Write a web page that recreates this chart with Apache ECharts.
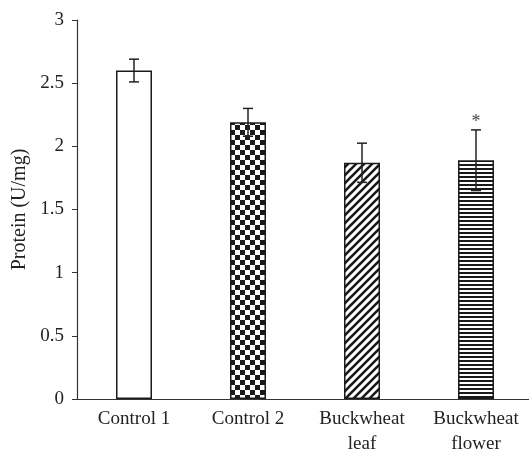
<!DOCTYPE html>
<html>
<head>
<meta charset="utf-8">
<script src="https://cdn.jsdelivr.net/npm/echarts@6/dist/echarts.min.js"></script>
<style>
  html, body { margin: 0; padding: 0; background: #fff; }
  #myChart { width: 529px; height: 455px; }
</style>
</head>
<body>
<div id="myChart"></div>
<script>
// data
var categories = ["Control 1", "Control 2", "Buckwheat\nleaf", "Buckwheat\nflower"];
var protein = [2.6, 2.19, 1.87, 1.89];
var errors = [0.09, 0.11, 0.155, 0.24];
var marks = ["", "", "", "*"];
var yTicks = [0, 0.5, 1, 1.5, 2, 2.5, 3];

// fill patterns
function tile(w, h, draw) {
  var c = document.createElement("canvas");
  c.width = w;
  c.height = h;
  var ctx = c.getContext("2d");
  ctx.fillStyle = "#fff";
  ctx.fillRect(0, 0, w, h);
  ctx.fillStyle = "#1a1a1a";
  ctx.strokeStyle = "#1a1a1a";
  draw(ctx);
  return { image: c, repeat: "repeat" };
}
var checker = tile(10, 10, function (ctx) {
  ctx.fillRect(0, 0, 5, 5);
  ctx.fillRect(5, 5, 5, 5);
});
var diagonal = tile(8, 8, function (ctx) {
  ctx.lineWidth = 2.6;
  ctx.beginPath();
  ctx.moveTo(-2, 10); ctx.lineTo(10, -2);
  ctx.moveTo(-2, 2); ctx.lineTo(2, -2);
  ctx.moveTo(6, 10); ctx.lineTo(10, 6);
  ctx.stroke();
});
var horizontal = tile(4, 4, function (ctx) {
  ctx.fillRect(0, 0, 4, 2);
});
var fills = ["#fff", checker, diagonal, horizontal];

var myChart = echarts.init(document.getElementById("myChart"));
var font = "'Liberation Serif', 'DejaVu Serif', serif";

myChart.setOption({
  animation: false,
  textStyle: { fontFamily: font },
  grid: { left: 77, top: 20, right: -4, bottom: 56, outerBoundsMode: "none", containLabel: false },
  xAxis: {
    type: "category",
    data: categories,
    axisLine: { lineStyle: { color: "#333", width: 1.2 } },
    axisTick: { alignWithLabel: true, length: 5, lineStyle: { color: "#333" } },
    axisLabel: { color: "#222", fontSize: 19, fontFamily: font, margin: 8, lineHeight: 25 }
  },
  yAxis: {
    type: "value",
    min: yTicks[0],
    max: yTicks[yTicks.length - 1],
    interval: 0.5,
    name: "Protein (U/mg)",
    nameLocation: "middle",
    nameGap: 38,
    nameTextStyle: { color: "#222", fontSize: 20, fontFamily: font },
    splitLine: { show: false },
    axisLine: { show: true, lineStyle: { color: "#333", width: 1.2 } },
    axisTick: { show: true, length: 5, lineStyle: { color: "#333" } },
    axisLabel: { color: "#222", fontSize: 19, fontFamily: font, margin: 13 }
  },
  series: [
    {
      type: "bar",
      barWidth: 36,
      data: protein.map(function (v, i) {
        return { value: v, itemStyle: { color: fills[i] } };
      }),
      itemStyle: { borderColor: "#1a1a1a", borderWidth: 1.5 }
    },
    {
      type: "custom",
      z: 5,
      data: protein.map(function (v, i) { return [i, v, errors[i]]; }),
      renderItem: function (params, api) {
        var i = api.value(0);
        var v = api.value(1);
        var e = api.value(2);
        var hi = api.coord([i, v + e]);
        var lo = api.coord([i, v - e]);
        var cap = 5;
        var style = { stroke: "#222", lineWidth: 1.5 };
        var children = [
          { type: "line", shape: { x1: hi[0], y1: hi[1], x2: lo[0], y2: lo[1] }, style: style },
          { type: "line", shape: { x1: hi[0] - cap, y1: hi[1], x2: hi[0] + cap, y2: hi[1] }, style: style },
          { type: "line", shape: { x1: lo[0] - cap, y1: lo[1], x2: lo[0] + cap, y2: lo[1] }, style: style }
        ];
        if (marks[params.dataIndex]) {
          children.push({
            type: "text",
            style: {
              text: marks[params.dataIndex], x: hi[0], y: hi[1] + 1,
              align: "center", verticalAlign: "bottom",
              fill: "#444", fontSize: 18, fontFamily: font
            }
          });
        }
        return { type: "group", children: children };
      }
    }
  ]
});
</script>
</body>
</html>
